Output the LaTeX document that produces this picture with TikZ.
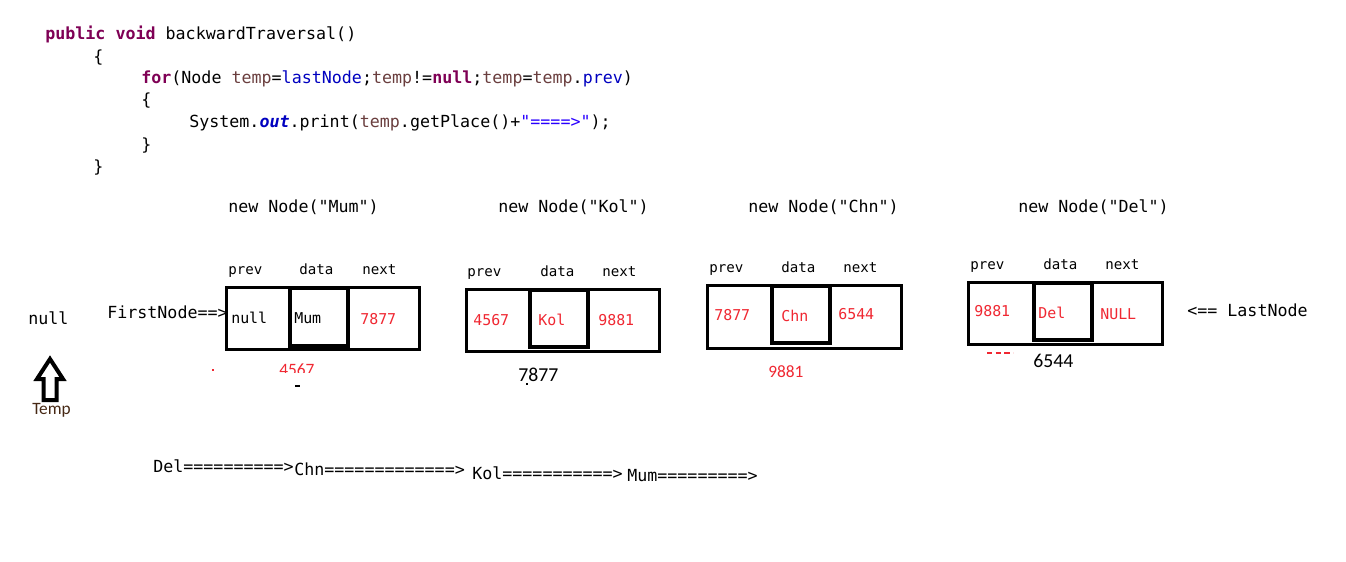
\documentclass[tikz,border=0pt]{standalone}
\usepackage{fontspec}
\setmainfont{Carlito}
\setmonofont{DejaVu Sans Mono}
\usetikzlibrary{fit}
\definecolor{kw}{RGB}{127,0,85}
\definecolor{var}{RGB}{106,62,62}
\definecolor{fld}{RGB}{0,0,192}
\definecolor{str}{RGB}{42,0,255}
\definecolor{rd}{RGB}{240,40,50}
\tikzset{
  code/.style={anchor=base west, inner sep=0pt, font=\ttfamily\fontsize{12.5}{15}\selectfont},
  lbl/.style={anchor=base west, inner sep=0pt, font=\ttfamily\fontsize{10.6}{13}\selectfont},
  cell/.style={anchor=base west, inner sep=0pt, font=\ttfamily\fontsize{11.2}{13}\selectfont},
  redcell/.style={cell, text=rd},
  addr/.style={anchor=base west, inner sep=0pt, font=\fontsize{14.8}{17}\selectfont},
  raddr/.style={anchor=base west, inner sep=0pt, text=rd, font=\fontsize{13}{15}\selectfont},
  outer/.style={draw, line width=2.25pt, inner sep=0pt},
  mid/.style={draw, line width=3pt, inner sep=0pt},
}
\begin{document}
\begin{tikzpicture}[x=0.75pt,y=-0.75pt]
\useasboundingbox (0,0) rectangle (1346,561);
\fill[white] (0,0) rectangle (1346,561);
% code
\node[code] (c1) at (45,39) {\textcolor{kw}{\bfseries public void} backwardTraversal()};
\node[code] (c2) at (93,62) {\{};
\node[code] (c3) at (141,83) {\textcolor{kw}{\bfseries for}(Node \textcolor{var}{temp}=\textcolor{fld}{lastNode};\textcolor{var}{temp}!=\textcolor{kw}{\bfseries null};\textcolor{var}{temp}=\textcolor{var}{temp}.\textcolor{fld}{prev})};
\node[code] (c4) at (141,105) {\{};
\node[code] (c5) at (189,127) {System.\textcolor{fld}{\bfseries\itshape out}.print(\textcolor{var}{temp}.getPlace()+\textcolor{str}{"====>"});};
\node[code] (c6) at (141,150) {\}};
\node[code] (c7) at (93,172) {\}};
% titles
\node[code] (t1) at (228,212) {new Node("Mum")};
\node[code] (t2) at (498,212) {new Node("Kol")};
\node[code] (t3) at (748,212) {new Node("Chn")};
\node[code] (t4) at (1018,212) {new Node("Del")};
% field labels
\node[lbl] (p1) at (228,274) {prev};
\node[lbl] (d1) at (299,274) {data};
\node[lbl] (n1) at (362,274) {next};
\node[lbl] (p2) at (467,276) {prev};
\node[lbl] (d2) at (540,276) {data};
\node[lbl] (n2) at (602,276) {next};
\node[lbl] (p3) at (709,272) {prev};
\node[lbl] (d3) at (781,272) {data};
\node[lbl] (n3) at (843,272) {next};
\node[lbl] (p4) at (970,269) {prev};
\node[lbl] (d4) at (1043,269) {data};
\node[lbl] (n4) at (1105,269) {next};
% boxes
\node[outer, fit={(226,287) (419,349)}] (box1) {};
\node[mid, fit={(290,288) (348,346)}] (mid1) {};
\node[outer, fit={(466,289) (659,351)}] (box2) {};
\node[mid, fit={(530,290) (588,347)}] (mid2) {};
\node[outer, fit={(707,285) (901,348)}] (box3) {};
\node[mid, fit={(772,286) (830,343)}] (mid3) {};
\node[outer, fit={(968,282) (1162,344)}] (box4) {};
\node[mid, fit={(1034,283) (1092,340)}] (mid4) {};
% cell contents
\node[cell] (v11) at (231,323) {null};
\node[cell] (v12) at (294,323) {Mum};
\node[redcell] (v13) at (360,324) {7877};
\node[redcell] (v21) at (473,325) {4567};
\node[redcell] (v22) at (538,325) {Kol};
\node[redcell] (v23) at (598,325) {9881};
\node[redcell] (v31) at (714,320) {7877};
\node[redcell] (v32) at (781,321) {Chn};
\node[redcell] (v33) at (838,319) {6544};
\node[redcell] (v41) at (974,316) {9881};
\node[redcell] (v42) at (1038,318) {Del};
\node[redcell] (v43) at (1100,319) {NULL};
% side labels
\node[code] (nul) at (28,324) {null};
\node[code] (fn) at (107,318) {FirstNode==>};
\node[code] (ln) at (1187,316) {<== LastNode};
% addresses
\begin{scope}
\clip (270,355) rectangle (330,372);
\node[raddr] (a1) at (279,375) {4567};
\end{scope}
\node[addr] (a2) at (518,381) {7877};
\node[raddr] (a3) at (768,377) {9881};
\node[addr] (a4) at (1033,367) {6544};
\draw[rd, line width=1pt] (212,370) -- (214,370);
\draw[line width=1.5pt] (295,386) -- (300,386);
\draw[line width=1pt] (526,384) -- (528,384);
\draw[rd, line width=0.8pt, dash pattern=on 4pt off 2.5pt] (987,353) -- (1013,353);
% temp arrow
\draw[line width=3pt, line join=miter] (50,359) -- (63,379) -- (56.5,379) -- (56.5,400) -- (43.5,400) -- (43.5,379) -- (37,379) -- cycle;
\node[anchor=base west, inner sep=0pt, text={rgb,255:red,70;green,40;blue,20}, font=\fontsize{13}{15}\selectfont] (tmp) at (32,414) {Temp};
% output
\node[code] (o1) at (153,472) {Del==========>};
\node[code] (o2) at (294,475) {Chn=============>};
\node[code] (o3) at (472,479) {Kol===========>};
\node[code] (o4) at (627,481) {Mum=========>};
\end{tikzpicture}
\end{document}
